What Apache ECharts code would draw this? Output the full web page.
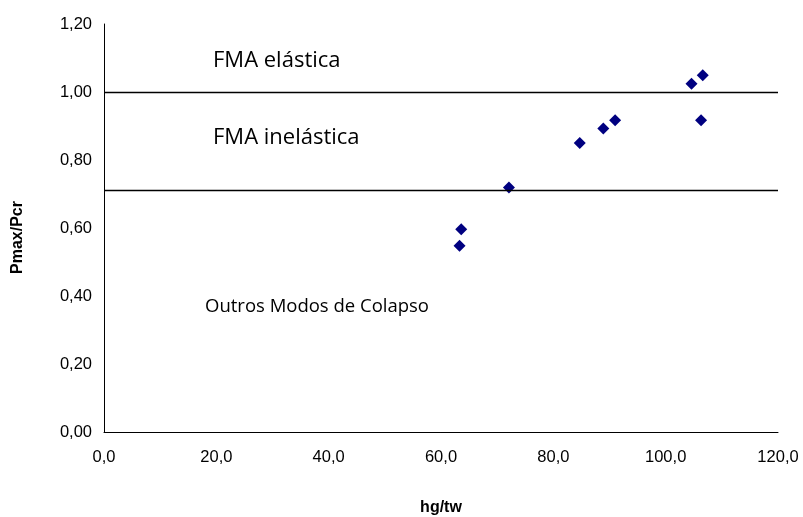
<!DOCTYPE html>
<html><head><meta charset="utf-8">
<script src="https://cdn.jsdelivr.net/npm/echarts@6/dist/echarts.min.js"></script>
<style>html,body{margin:0;padding:0;background:#fff}#c{width:803px;height:517px}</style>
</head><body><div id="c"></div>
<script>
const hgTw = [63.3, 63.6, 72.1, 84.7, 88.9, 91.0, 104.6, 106.6, 106.3];
const pRatio = [0.548, 0.596, 0.719, 0.850, 0.893, 0.917, 1.024, 1.049, 0.917];
const limitLines = [1.0, 0.712];
const regionLabels = ['FMA elástica', 'FMA inelástica', 'Outros Modos de Colapso'];

const chart = echarts.init(document.getElementById('c'));
chart.setOption({
  animation: false,
  grid: {left: 104, right: 25, top: 24, bottom: 85, outerBoundsMode: 'none', containLabel: false},
  xAxis: {
    type: 'value', min: 0, max: 120, interval: 20,
    name: 'hg/tw', nameLocation: 'middle', nameGap: 68,
    nameTextStyle: {fontFamily: 'Liberation Sans', fontWeight: 'bold', fontSize: 16, color: '#000'},
    axisLine: {lineStyle: {color: '#000', width: 1}},
    axisTick: {show: false},
    splitLine: {show: false},
    axisLabel: {fontFamily: 'Liberation Sans', fontSize: 16.5, color: '#000', margin: 17,
      formatter: v => v.toFixed(1).replace('.', ',')}
  },
  yAxis: {
    type: 'value', min: 0, max: 1.2, interval: 0.2,
    name: 'Pmax/Pcr', nameLocation: 'middle', nameGap: 78, nameRotate: 90,
    nameTextStyle: {fontFamily: 'Liberation Sans', fontWeight: 'bold', fontSize: 16, color: '#000', padding: [0, 19, 0, 0]},
    axisLine: {show: true, lineStyle: {color: '#000', width: 1}},
    axisTick: {show: false},
    splitLine: {show: false},
    axisLabel: {fontFamily: 'Liberation Sans', fontSize: 16.5, color: '#000', margin: 12,
      formatter: v => v.toFixed(2).replace('.', ',')}
  },
  series: [{
    type: 'scatter',
    data: hgTw.map((x, i) => [x, pRatio[i]]),
    symbol: 'diamond', symbolSize: 12,
    itemStyle: {color: '#000080', opacity: 1},
    markLine: {
      silent: true, symbol: 'none', label: {show: false},
      lineStyle: {color: '#000', type: 'solid', width: 1.3, opacity: 1},
      data: limitLines.map(v => ({yAxis: v}))
    }
  }],
  graphic: [
    {type: 'text', left: 213, top: 50, style: {text: regionLabels[0], font: '22px "Open Sans"', fill: '#000'}},
    {type: 'text', left: 213, top: 127, style: {text: regionLabels[1], font: '22px "Open Sans"', fill: '#000'}},
    {type: 'text', left: 205, top: 297, style: {text: regionLabels[2], font: '18.5px "Open Sans"', fill: '#000'}}
  ]
});
</script></body></html>
